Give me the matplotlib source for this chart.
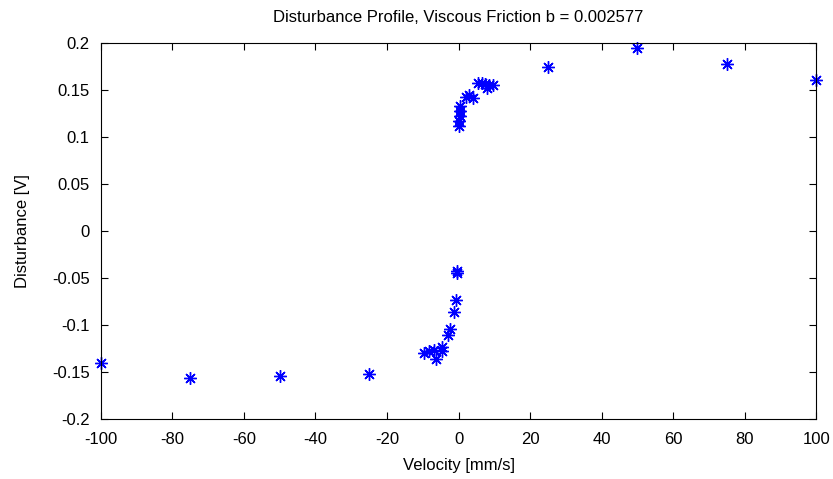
import matplotlib
matplotlib.use("Agg")
import matplotlib.pyplot as plt

plt.rcParams['font.family'] = ['Liberation Sans Narrow', 'Liberation Sans', 'DejaVu Sans']

# velocity [mm/s] and disturbance [V]
vel_outer = [-100, -75, -50, -25, 25, 50, 75, 100]
dist_outer = [-0.140, -0.156, -0.154, -0.152, 0.175, 0.195, 0.178, 0.161]

vel_pos = [0.1, 0.2, 0.3, 0.4, 0.5, 2.0, 3.0, 4.0, 5.5, 6.5, 7.5, 8.0, 8.5, 9.5]
dist_pos = [0.112, 0.117, 0.122, 0.128, 0.133, 0.143, 0.145, 0.142,
            0.158, 0.158, 0.156, 0.152, 0.155, 0.155]

vel_neg = [-0.3, -0.4, -0.8, -1.4, -2.5, -3.0, -4.5, -4.5, -7.0, -8.4, -9.8, -6.4]
dist_neg = [-0.042, -0.045, -0.073, -0.086, -0.104, -0.110, -0.123, -0.127,
            -0.126, -0.128, -0.130, -0.136]

xticks = list(range(-100, 101, 20))
yticks = [-0.2, -0.15, -0.1, -0.05, 0, 0.05, 0.1, 0.15, 0.2]
ytick_labels = ['-0.2', '-0.15', '-0.1', '-0.05', '0', '0.05', '0.1', '0.15', '0.2']

fig = plt.figure(figsize=(8.33, 4.79), dpi=100)
ax = fig.add_axes([0.121, 0.125, 0.859, 0.785])

v = vel_outer + vel_pos + vel_neg
d = dist_outer + dist_pos + dist_neg
# matlab-style asterisk: 8 arms
ax.plot(v, d, linestyle='none', marker=(8, 2, 0), color='blue',
        markersize=9, markeredgewidth=1.0, clip_on=False)

ax.set_xlim(-100, 100)
ax.set_ylim(-0.2, 0.2)
ax.set_xticks(xticks)
ax.set_xticklabels([str(t) for t in xticks])
ax.set_yticks(yticks)
ax.set_yticklabels(ytick_labels)
ax.tick_params(direction='in', top=True, right=True, length=5, labelsize=12, width=0.8)
ax.tick_params(axis='y', pad=8)
ax.tick_params(axis='x', pad=9)
for s in ax.spines.values():
    s.set_linewidth(0.8)

ax.set_xlabel('Velocity [mm/s]', fontsize=12, labelpad=8)
ax.set_ylabel('Disturbance [V]', fontsize=12, labelpad=16)
ax.set_title('Disturbance Profile, Viscous Friction b = 0.002577', fontsize=12, pad=15)

fig.savefig('out.png', dpi=100)
